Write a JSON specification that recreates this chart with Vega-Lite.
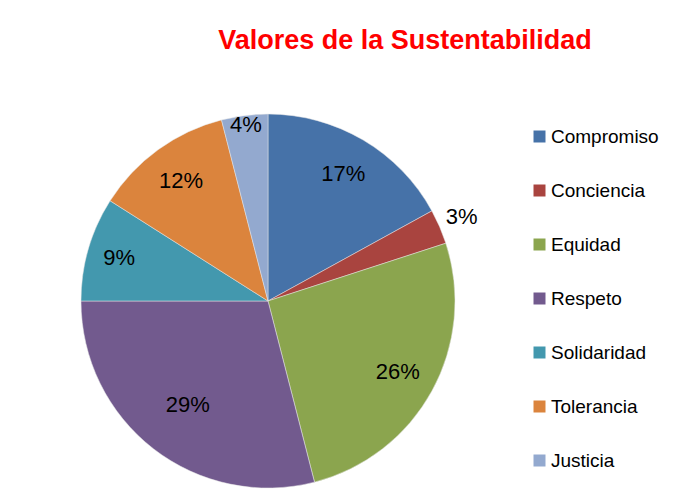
{
  "$schema": "https://vega.github.io/schema/vega-lite/v6.json",
  "width": 536,
  "height": 602,
  "autosize": {"type": "none"},
  "padding": {"left": 0, "top": 0, "right": 151, "bottom": 0},
  "background": "white",
  "config": {"view": {"stroke": null}, "font": "Liberation Sans"},
  "title": {
    "text": "Valores de la Sustentabilidad",
    "color": "#FF0000",
    "fontSize": 27,
    "fontWeight": "bold",
    "font": "Liberation Sans",
    "anchor": "middle",
    "limit": 0,
    "dx": 137,
    "offset": 0,
    "baseline": "alphabetic",
    "dy": 76
  },
  "data": {
    "values": [
      {"valor": "Compromiso", "pct": 0.17, "orden": 1},
      {"valor": "Conciencia", "pct": 0.03, "orden": 2},
      {"valor": "Equidad", "pct": 0.26, "orden": 3},
      {"valor": "Respeto", "pct": 0.29, "orden": 4},
      {"valor": "Solidaridad", "pct": 0.09, "orden": 5},
      {"valor": "Tolerancia", "pct": 0.12, "orden": 6},
      {"valor": "Justicia", "pct": 0.04, "orden": 7}
    ]
  },
  "encoding": {
    "theta": {"field": "pct", "type": "quantitative", "stack": true},
    "order": {"field": "orden", "type": "quantitative"}
  },
  "layer": [
    {
      "mark": {"type": "arc", "outerRadius": 187, "stroke": "#e6e6e6", "strokeWidth": 0.5},
      "encoding": {
        "color": {
          "field": "valor",
          "type": "nominal",
          "sort": null,
          "scale": {
            "domain": ["Compromiso", "Conciencia", "Equidad", "Respeto", "Solidaridad", "Tolerancia", "Justicia"],
            "range": ["#4672A8", "#A9443F", "#8BA54E", "#725A8E", "#4398AE", "#DB843D", "#93A9CF"]
          },
          "legend": {
            "orient": "none",
            "legendX": 530,
            "legendY": 127,
            "title": null,
            "symbolType": "square",
            "symbolSize": 144,
            "symbolStrokeWidth": 0,
            "labelFontSize": 19,
            "labelFont": "Liberation Sans",
            "labelColor": "#000000",
            "labelOffset": 2,
            "labelLimit": 0,
            "rowPadding": 34
          }
        }
      }
    },
    {
      "mark": {"type": "text", "radius": 148, "fontSize": 22, "align": "center", "baseline": "middle"},
      "encoding": {
        "color": {"value": "#000000"},
        "text": {
          "condition": {"test": "datum.valor !== 'Conciencia' && datum.valor !== 'Justicia' && datum.valor !== 'Respeto' && datum.valor !== 'Solidaridad'", "field": "pct", "type": "quantitative", "format": ".0%"},
          "value": ""
        }
      }
    },
    {
      "mark": {"type": "text", "radius": 211, "fontSize": 22, "align": "center", "baseline": "middle"},
      "encoding": {
        "color": {"value": "#000000"},
        "text": {
          "condition": {"test": "datum.valor === 'Conciencia'", "field": "pct", "type": "quantitative", "format": ".0%"},
          "value": ""
        }
      }
    },
    {
      "mark": {"type": "text", "radius": 177, "fontSize": 22, "align": "center", "baseline": "middle"},
      "encoding": {
        "color": {"value": "#000000"},
        "text": {
          "condition": {"test": "datum.valor === 'Justicia'", "field": "pct", "type": "quantitative", "format": ".0%"},
          "value": ""
        }
      }
    },
    {
      "mark": {"type": "text", "radius": 155, "fontSize": 22, "align": "center", "baseline": "middle"},
      "encoding": {
        "color": {"value": "#000000"},
        "text": {
          "condition": {"test": "datum.valor === 'Solidaridad'", "field": "pct", "type": "quantitative", "format": ".0%"},
          "value": ""
        }
      }
    },
    {
      "mark": {"type": "text", "radius": 131, "fontSize": 22, "align": "center", "baseline": "middle"},
      "encoding": {
        "color": {"value": "#000000"},
        "text": {
          "condition": {"test": "datum.valor === 'Respeto'", "field": "pct", "type": "quantitative", "format": ".0%"},
          "value": ""
        }
      }
    }
  ]
}
